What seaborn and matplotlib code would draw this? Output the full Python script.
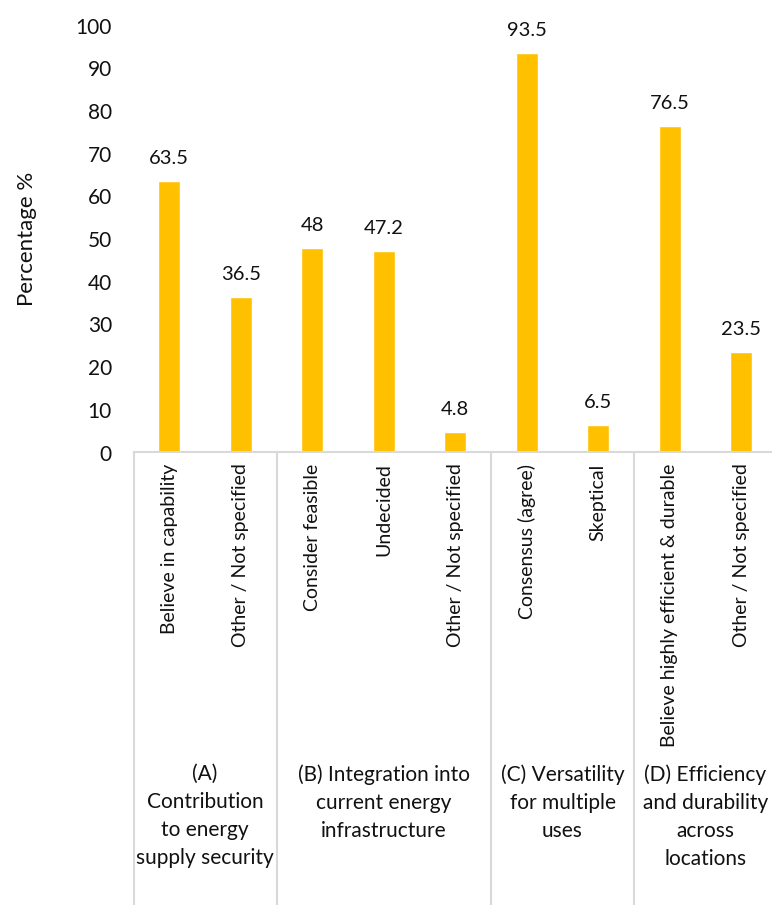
import matplotlib
matplotlib.use("Agg")
import matplotlib.pyplot as plt
import matplotlib.transforms as mtransforms
import numpy as np
import pandas as pd
import seaborn as sns

# Survey responses, grouped by question
groups = ["A", "A", "B", "B", "B", "C", "C", "D", "D"]
responses = [
    "Believe in capability",
    "Other / Not specified",
    "Consider feasible",
    "Undecided",
    "Other / Not specified",
    "Consensus (agree)",
    "Skeptical",
    "Believe highly efficient & durable",
    "Other / Not specified",
]
percentages = [63.5, 36.5, 48, 47.2, 4.8, 93.5, 6.5, 76.5, 23.5]

group_titles = [
    "(A)\nContribution\nto energy\nsupply security",
    "(B) Integration into\ncurrent energy\ninfrastructure",
    "(C) Versatility\nfor multiple\nuses",
    "(D) Efficiency\nand durability\nacross\nlocations",
]
y_ticks = [0, 10, 20, 30, 40, 50, 60, 70, 80, 90, 100]

BAR_COLOR = "#FFC000"
LINE_COLOR = "#D9D9D9"
TEXT_COLOR = "#111111"

sns.set_theme(style="white")
plt.rcParams["font.family"] = ["Lato", "DejaVu Sans"]

df = pd.DataFrame({
    "item": [f"{g}{i}" for i, g in enumerate(groups)],
    "response": responses,
    "group": groups,
    "pct": percentages,
})

W, H = 772, 905
fig = plt.figure(figsize=(W / 100, H / 100), dpi=100)
x0, y0, y100 = 133.5, 452.5, 25.5
ax = fig.add_axes([x0 / W, 1 - y0 / H, (W - x0) / W, (y0 - y100) / H])

sns.barplot(data=df, x="item", y="pct", order=df["item"], color=BAR_COLOR,
            width=0.31, saturation=1, ax=ax)

ax.set_ylim(0, 100)
step = 71.5
ax.set_xlim(-0.5, -0.5 + (W - x0) / step)
ax.set_yticks(y_ticks)
ax.set_yticklabels([str(t) for t in y_ticks], fontsize=15, color=TEXT_COLOR)
ax.tick_params(axis="y", length=0, pad=15.5)
ax.tick_params(axis="x", length=0, pad=8)
ax.set_xticks(range(len(responses)))
ax.set_xticklabels(responses, rotation=90, fontsize=14, color=TEXT_COLOR,
                   va="top", ha="center")
ax.set_xlabel("")
ax.set_ylabel("Percentage %", fontsize=16, color=TEXT_COLOR, labelpad=28)

for side in ["left", "right", "top"]:
    ax.spines[side].set_visible(False)
ax.spines["bottom"].set_color(LINE_COLOR)
ax.spines["bottom"].set_linewidth(1.5)

for cont in ax.containers:
    ax.bar_label(cont, fmt="{:g}", padding=10, fontsize=14.5, color=TEXT_COLOR)

# Group separators below the axis
trans = mtransforms.blended_transform_factory(ax.transData, ax.transAxes)
bottom = -(H - y0) / (y0 - y100)
for xb in [-0.5, 1.5, 4.5, 6.5, 8.5]:
    ax.plot([xb, xb], [0, bottom], transform=trans, color=LINE_COLOR,
            lw=1.5, clip_on=False)

# Group titles
group_centers = [0.5, 3.0, 5.5, 7.5]
for gx, title in zip(group_centers, group_titles):
    ax.text(gx, -(764 - y0) / (y0 - y100), title, transform=trans,
            ha="center", va="top", fontsize=15, color=TEXT_COLOR,
            linespacing=1.5, multialignment="center")

fig.savefig("out.png", dpi=100)
